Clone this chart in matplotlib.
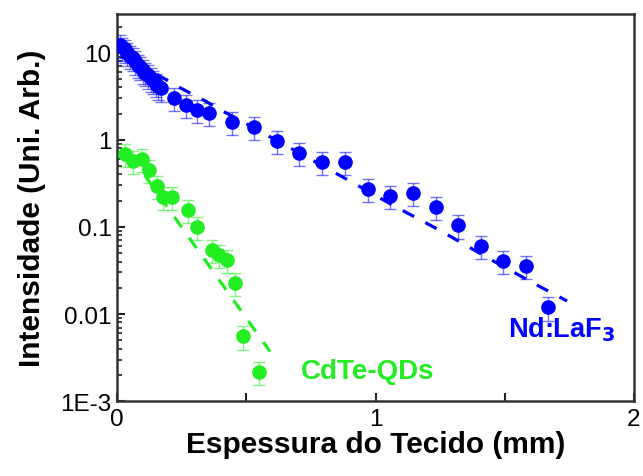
import matplotlib
matplotlib.use("Agg")
import matplotlib.pyplot as plt
import numpy as np
from matplotlib.ticker import FixedLocator, FixedFormatter, LogLocator, NullFormatter

# ---------------- data ----------------
nd_x = [0.01, 0.02, 0.03, 0.04, 0.05, 0.06, 0.07, 0.08, 0.09, 0.10, 0.11, 0.12,
        0.13, 0.14, 0.15, 0.16, 0.17,
        0.22, 0.267, 0.309, 0.356, 0.445, 0.53, 0.619, 0.704, 0.793, 0.882,
        0.971, 1.056, 1.145, 1.234, 1.319, 1.408, 1.493, 1.582, 1.667]
nd_y = [12.4, 11.5, 10.9, 10.0, 9.2, 8.7, 8.0, 7.3, 6.9, 6.3, 5.9, 5.5,
        5.1, 4.8, 4.4, 4.1, 3.9,
        3.04, 2.52, 2.21, 2.04, 1.61, 1.41, 0.975, 0.71, 0.56, 0.56,
        0.273, 0.227, 0.246, 0.170, 0.105, 0.0605, 0.0407, 0.0356, 0.0120]

cd_x = [0.031, 0.062, 0.097, 0.124, 0.155, 0.178, 0.213, 0.275, 0.309,
        0.368, 0.395, 0.426, 0.456, 0.487, 0.549]
cd_y = [0.69, 0.574, 0.605, 0.452, 0.296, 0.221, 0.221, 0.157, 0.100,
        0.0544, 0.0477, 0.0418, 0.0227, 0.00558, 0.00216]

rel_err = 0.30  # relative error bar size

# fitted curves
nd_fit_x = [0.0, 0.10, 0.244, 0.340, 0.414, 0.507, 0.600, 0.886, 1.072, 1.253, 1.435, 1.617, 1.741]
nd_fit_y = [13.0, 7.0, 3.96, 2.81, 2.10, 1.49, 1.05, 0.356, 0.174, 0.090, 0.044, 0.0221, 0.0141]
cd_fit_x = [0.05, 0.592]
cd_fit_y = [0.68, 0.0037]

y_ticks = [1e-3, 1e-2, 1e-1, 1, 10]
y_labels = ["1E-3", "0.01", "0.1", "1", "10"]
x_ticks = [0, 0.5, 1, 1.5, 2]
x_labels = ["0", "", "1", "", "2"]

blue = "#0000ff"
green = "#22ee22"

plt.rcParams['font.family'] = ['Liberation Sans', 'DejaVu Sans']

fig = plt.figure(figsize=(6.43, 4.77), dpi=100)
ax = fig.add_axes([0.182, 0.157, 0.804, 0.812])

ax.set_yscale("log")

# fits
ax.plot(nd_fit_x, nd_fit_y, color=blue, lw=2.3, dashes=(4, 4), zorder=2)
ax.plot(cd_fit_x, cd_fit_y, color=green, lw=2.3, dashes=(4, 4), zorder=2)

# data with error bars
for xs, ys, c in [(nd_x, nd_y, blue), (cd_x, cd_y, green)]:
    ys = np.asarray(ys)
    yerr = rel_err * ys
    ax.errorbar(xs, ys, yerr=yerr, fmt="none", ecolor=c, elinewidth=1.0,
                capsize=4, capthick=1.0, alpha=0.55, zorder=3)
    ax.plot(xs, ys, "o", color=c, ms=9.5, mec=c, zorder=4)

ax.set_xlim(0, 2)
ax.set_ylim(1e-3, 28)

ax.xaxis.set_major_locator(FixedLocator(x_ticks))
ax.xaxis.set_major_formatter(FixedFormatter(x_labels))
ax.yaxis.set_major_locator(FixedLocator(y_ticks))
ax.yaxis.set_major_formatter(FixedFormatter(y_labels))
ax.yaxis.set_minor_locator(LogLocator(base=10, subs=np.arange(2, 10)))
ax.yaxis.set_minor_formatter(NullFormatter())

ax.tick_params(axis="both", which="major", direction="in", length=6, width=1.5,
               colors="#222222", labelsize=17.5, labelcolor="black", pad=4)
ax.tick_params(axis="y", which="minor", direction="in", length=3.5, width=1.2,
               colors="#222222")
ax.tick_params(axis="x", pad=5)
for s in ax.spines.values():
    s.set_linewidth(1.8)
    s.set_color("#333333")

ax.set_xlabel("Espessura do Tecido (mm)", fontsize=21.5, fontweight="bold", labelpad=0)
ax.set_ylabel("Intensidade (Uni. Arb.)", fontsize=21.5, fontweight="bold", labelpad=10)

ax.text(1.72, 0.0067, r"Nd:LaF$_\mathbf{3}$", color=blue, fontsize=19.5,
        fontweight="bold", ha="center", va="center")
ax.text(0.97, 0.0022, "CdTe-QDs", color=green, fontsize=20,
        fontweight="bold", ha="center", va="center")

fig.savefig("out.png", dpi=100)
